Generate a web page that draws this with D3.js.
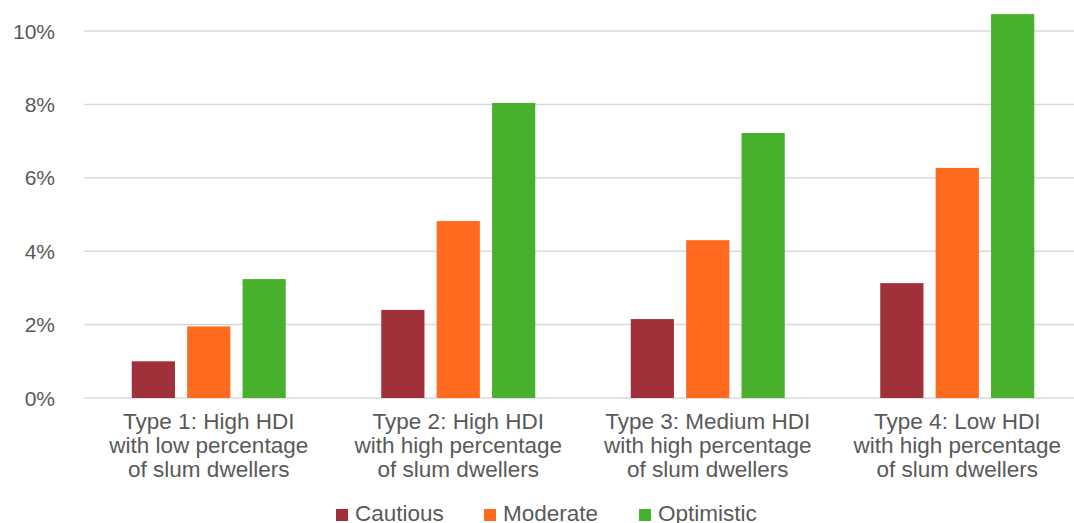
<!DOCTYPE html>
<html>
<head>
<meta charset="utf-8">
<script src="https://cdn.jsdelivr.net/npm/d3@7"></script>
<style>
  html, body { margin: 0; padding: 0; background: #fff; }
  svg { display: block; font-family: "Liberation Sans", Arial, sans-serif; }
</style>
</head>
<body>
<svg id="chart" width="1074" height="523"></svg>
<script>
// Growth rate by city type and scenario
const categories = [
  ["Type 1: High HDI", "with low percentage", "of slum dwellers"],
  ["Type 2: High HDI", "with high percentage", "of slum dwellers"],
  ["Type 3: Medium HDI", "with high percentage", "of slum dwellers"],
  ["Type 4: Low HDI", "with high percentage", "of slum dwellers"]
];
const seriesNames = ["Cautious", "Moderate", "Optimistic"];
const cautious   = [1.0, 2.4, 2.15, 3.13];
const moderate   = [1.95, 4.82, 4.3, 6.27];
const optimistic = [3.24, 8.04, 7.22, 10.46];
const yTicks = [0, 2, 4, 6, 8, 10];

const seriesValues = [cautious, moderate, optimistic];
const colors = ["#A0313A", "#FF6A1F", "#47B02C"];

const svg = d3.select("#chart");
const textColor = "#595959";

const x0 = d3.scaleBand()
  .domain(d3.range(categories.length))
  .range([84, 1082])
  .padding(0);

const x1 = d3.scaleBand()
  .domain(d3.range(seriesNames.length))
  .range([-77, 77])
  .paddingInner(0.22)
  .paddingOuter(0);

const y = d3.scaleLinear()
  .domain([0, 10])
  .range([398, 31]);

// gridlines
svg.append("g")
  .selectAll("line")
  .data(yTicks)
  .join("line")
  .attr("x1", 84)
  .attr("x2", 1074)
  .attr("y1", d => y(d))
  .attr("y2", d => y(d))
  .attr("stroke", "#d9d9d9")
  .attr("stroke-width", 1.5);

// y tick labels
svg.append("g")
  .selectAll("text")
  .data(yTicks)
  .join("text")
  .attr("x", 55)
  .attr("y", d => y(d))
  .attr("dy", "0.36em")
  .attr("text-anchor", "end")
  .attr("font-size", 21)
  .attr("fill", textColor)
  .text(d => d + "%");

// bars
const groups = svg.append("g")
  .selectAll("g")
  .data(categories.map((c, i) => i))
  .join("g")
  .attr("transform", i => `translate(${x0(i) + x0.bandwidth() / 2},0)`);

groups.selectAll("rect")
  .data(i => seriesValues.map((s, k) => ({ k, v: s[i] })))
  .join("rect")
  .attr("x", d => x1(d.k))
  .attr("width", x1.bandwidth())
  .attr("y", d => y(d.v))
  .attr("height", d => y(0) - y(d.v))
  .attr("fill", d => colors[d.k]);

// category labels
groups.append("text")
  .attr("text-anchor", "middle")
  .attr("font-size", 22.5)
  .attr("fill", textColor)
  .selectAll("tspan")
  .data(i => categories[i])
  .join("tspan")
  .attr("x", 0)
  .attr("y", (d, j) => 429 + j * 24)
  .text(d => d);

// legend
const legendX = [336, 484, 639];
const legend = svg.append("g")
  .selectAll("g")
  .data(seriesNames)
  .join("g")
  .attr("transform", (d, i) => `translate(${legendX[i]},0)`);

legend.append("rect")
  .attr("x", 0)
  .attr("y", 509)
  .attr("width", 12)
  .attr("height", 12)
  .attr("fill", (d, i) => colors[i]);

legend.append("text")
  .attr("x", 19)
  .attr("y", 521)
  .attr("font-size", 22.5)
  .attr("fill", textColor)
  .text(d => d);
</script>
</body>
</html>
